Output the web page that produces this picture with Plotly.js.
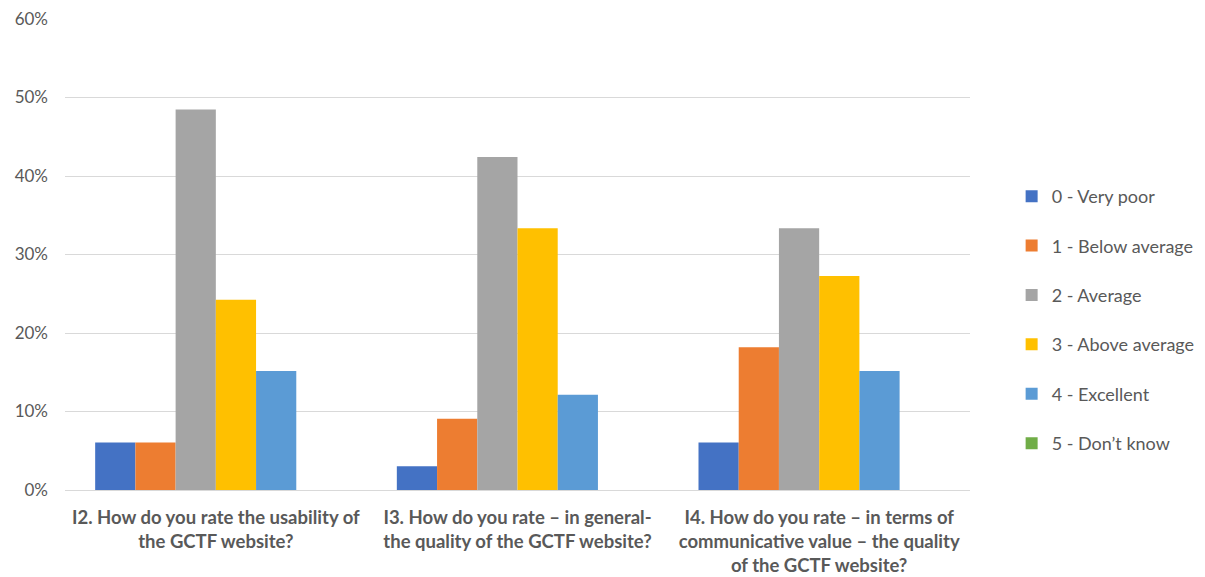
<!DOCTYPE html>
<html>
<head>
<meta charset="utf-8">
<script src="https://cdn.plot.ly/plotly-3.0.1.min.js"></script>
<style>html,body{margin:0;padding:0;background:#fff;}#chart{width:1205px;height:577px;}</style>
</head>
<body>
<div id="chart"></div>
<script>
const categories = [
  "<b>I2. How do you rate the usability of<br>the GCTF website?</b>",
  "<b>I3. How do you rate – in general-<br>the quality of the GCTF website?</b>",
  "<b>I4. How do you rate – in terms of<br>communicative value – the quality<br>of the GCTF website?</b>"
];
const seriesNames = ["0 - Very poor", "1 - Below average", "2 - Average", "3 - Above average", "4 - Excellent", "5 - Don’t know"];
const veryPoor = [0.0606, 0.0303, 0.0606];
const belowAverage = [0.0606, 0.0909, 0.1818];
const average = [0.4848, 0.4242, 0.3333];
const aboveAverage = [0.2424, 0.3333, 0.2727];
const excellent = [0.1515, 0.1212, 0.1515];
const dontKnow = [0, 0, 0];
const yTicks = [0, 0.1, 0.2, 0.3, 0.4, 0.5, 0.6];
const yTickLabels = ["0%", "10%", "20%", "30%", "40%", "50%", "60%"];

const colors = ["#4472C4", "#ED7D31", "#A5A5A5", "#FFC000", "#5B9BD5", "#70AD47"];
const values = [veryPoor, belowAverage, average, aboveAverage, excellent, dontKnow];

const traces = values.map((v, i) => ({
  type: "bar",
  name: seriesNames[i],
  x: categories,
  y: v,
  marker: {color: colors[i]},
  legendgroup: "g" + i,
  hoverinfo: "y+name"
}));

const layout = {
  width: 1205,
  height: 577,
  margin: {l: 65, r: 235, t: 19, b: 87, autoexpand: false},
  paper_bgcolor: "#ffffff",
  plot_bgcolor: "#ffffff",
  font: {family: "Lato, 'Open Sans', sans-serif", color: "#595959", size: 16},
  barmode: "group",
  bargap: 0.2,
  bargroupgap: 0,
  xaxis: {
    type: "category",
    showgrid: false,
    showline: true,
    linecolor: "#D9D9D9",
    linewidth: 1,
    ticks: "",
    tickangle: 0,
    ticklabelstandoff: 11,
    tickfont: {size: 18.5, color: "#595959"},
    automargin: false
  },
  yaxis: {
    range: [0, 0.6],
    tickvals: yTicks,
    ticktext: yTickLabels,
    showgrid: true,
    gridcolor: "#D9D9D9",
    gridwidth: 1,
    zeroline: false,
    showline: false,
    ticks: "",
    ticklabelstandoff: 16,
    tickfont: {size: 17, color: "#595959"},
    automargin: false
  },
  legend: {
    x: 1.046,
    xanchor: "left",
    y: 0.361,
    yanchor: "middle",
    font: {size: 18, color: "#595959"},
    tracegroupgap: 23,
    itemwidth: 30
  },
  showlegend: true
};

Plotly.newPlot("chart", traces, layout, {displayModeBar: false, staticPlot: true});
</script>
</body>
</html>
